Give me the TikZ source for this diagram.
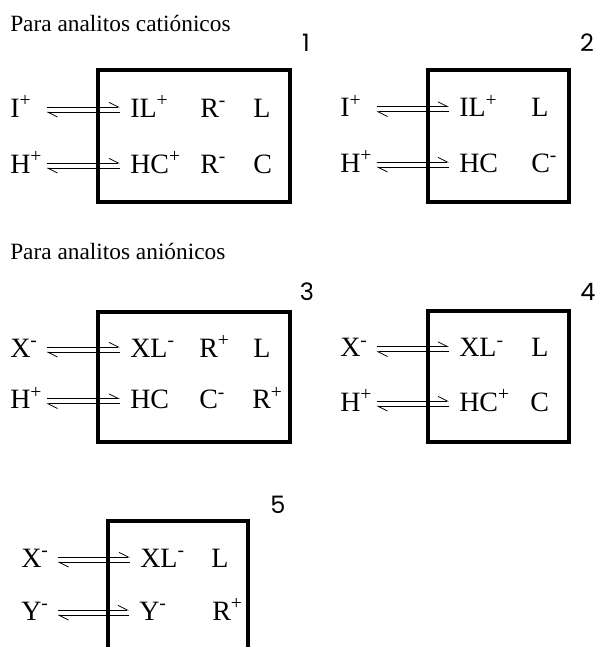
\documentclass[tikz,border=0pt]{standalone}
\usepackage{fontspec}
\setmainfont{Liberation Serif}
\newfontfamily\numfont{Poppins}
\usetikzlibrary{arrows.meta,positioning}
\newcommand\equil[2]{%
	\draw[harp] ([yshift=7.5pt]#1.base east) -- ([yshift=7.5pt,xshift=-7.5pt]#2.base west);
	\draw[harp] ([yshift=3.5pt,xshift=-7.5pt]#2.base west) -- ([yshift=3.5pt]#1.base east);}

\begin{document}
\begin{tikzpicture}[x=0.75pt, y=-0.75pt,
	title/.style={anchor=base west, inner sep=0pt, font=\fontsize{17.5}{20}\selectfont},
	num/.style={inner sep=0pt, font=\numfont\fontsize{18}{21}\selectfont},
	box/.style={draw, line width=2.4pt},
	lhs/.style={anchor=base west, inner sep=0pt, text width=27pt, font=\fontsize{21}{24}\selectfont},
	sp/.style={anchor=base west, inner sep=0pt, font=\fontsize{21}{24}\selectfont},
	harp/.style={line width=0.6pt, -{Straight Barb[harpoon, length=7pt, width=7pt, line width=0.6pt]}}]
	\useasboundingbox (0,0) rectangle (599,647);

	\node [title] (cat) at (10,31) {Para analitos catiónicos};
	\node [num] (n1) at (306,43) {1};
	\node [num] (n2) at (587,43) {2};
	\draw [box] (98,70) rectangle (290,202);
	\draw [box] (428,70) rectangle (569,202);

	\node [lhs] (I1) at (10,117) {I\textsuperscript{+}};
	\node [sp] (IL1) at (130,117) {IL\textsuperscript{+}};
	\node [sp] (R1) at (200,117) {R\textsuperscript{-}};
	\node [sp] (L1) at (253,117) {L};
	\node [lhs] (H1) at (10,173) {H\textsuperscript{+}};
	\node [sp] (HC1) at (130,173) {HC\textsuperscript{+}};
	\node [sp] (Rb1) at (200,173) {R\textsuperscript{-}};
	\node [sp] (C1) at (253,173) {C};
	\equil{I1}{IL1}
	\equil{H1}{HC1}

	\node [lhs] (I2) at (340,116.5) {I\textsuperscript{+}};
	\node [sp] (IL2) at (459,116.5) {IL\textsuperscript{+}};
	\node [sp] (L2) at (531,116.5) {L};
	\node [lhs] (H2) at (340,172) {H\textsuperscript{+}};
	\node [sp] (HC2) at (459,172) {HC};
	\node [sp] (C2) at (531,172) {C\textsuperscript{-}};
	\equil{I2}{IL2}
	\equil{H2}{HC2}

	\node [title] (an) at (10,259) {Para analitos aniónicos};
	\node [num] (n3) at (307,292) {3};
	\node [num] (n4) at (588,292) {4};
	\draw [box] (98,312) rectangle (290,442);
	\draw [box] (428,311) rectangle (569,442);

	\node [lhs] (X3) at (10,357) {X\textsuperscript{-}};
	\node [sp] (XL3) at (130,357) {XL\textsuperscript{-}};
	\node [sp] (R3) at (199,357) {R\textsuperscript{+}};
	\node [sp] (L3) at (253,357) {L};
	\node [lhs] (H3) at (10,408.5) {H\textsuperscript{+}};
	\node [sp] (HC3) at (130,408.5) {HC};
	\node [sp] (C3) at (199,408.5) {C\textsuperscript{-}};
	\node [sp] (Rb3) at (252,408.5) {R\textsuperscript{+}};
	\equil{X3}{XL3}
	\equil{H3}{HC3}

	\node [lhs] (X4) at (340,356.5) {X\textsuperscript{-}};
	\node [sp] (XL4) at (459,356.5) {XL\textsuperscript{-}};
	\node [sp] (L4) at (531,356.5) {L};
	\node [lhs] (H4) at (340,411) {H\textsuperscript{+}};
	\node [sp] (HC4) at (459,411) {HC\textsuperscript{+}};
	\node [sp] (C4) at (530,411) {C};
	\equil{X4}{XL4}
	\equil{H4}{HC4}

	\node [num] (n5) at (278,505) {5};
	\draw [box] (108,647) |- (248,521) -- (248,647);

	\node [lhs] (X5) at (21,567) {X\textsuperscript{-}};
	\node [sp] (XL5) at (140,567) {XL\textsuperscript{-}};
	\node [sp] (L5) at (211,567) {L};
	\node [lhs] (Y5) at (21,620) {Y\textsuperscript{-}};
	\node [sp] (Yb5) at (139,620) {Y\textsuperscript{-}};
	\node [sp] (R5) at (212,620) {R\textsuperscript{+}};
	\equil{X5}{XL5}
	\equil{Y5}{Yb5}
\end{tikzpicture}
\end{document}
